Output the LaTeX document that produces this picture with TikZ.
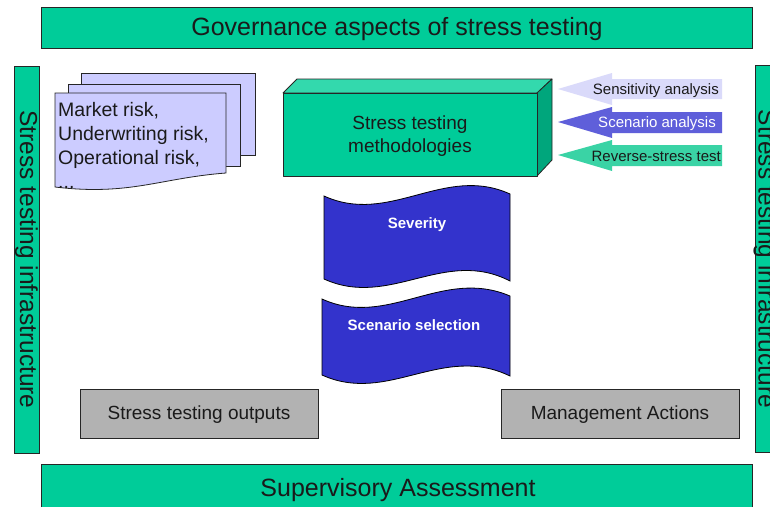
\documentclass[tikz,border=0pt]{standalone}
\usepackage{fontspec}
\setmainfont{Liberation Sans}
\definecolor{stgreen}{HTML}{00CC99}
\definecolor{stgreentop}{HTML}{33D9AD}
\definecolor{stgreenside}{HTML}{00A67C}
\definecolor{stgrey}{HTML}{B2B2B2}
\definecolor{stlav}{HTML}{CCCCFF}
\definecolor{stblue}{HTML}{3333CC}
\definecolor{arrlav}{HTML}{DADAFA}
\definecolor{arrblue}{HTML}{5F5FDA}
\definecolor{arrgreen}{HTML}{3AD3A5}
\definecolor{txtdark}{HTML}{1A1A1A}
\tikzset{
  bar/.style={draw=black!85, line width=1pt, fill=stgreen, inner sep=0pt, text=txtdark},
  greybox/.style={draw=black!85, line width=1pt, fill=stgrey, inner sep=0pt, minimum width=238pt, minimum height=49pt},
  greytext/.style={font=\fontsize{19}{22}\selectfont, text=txtdark},
  sheet/.style={draw=black!85, line width=0.8pt, fill=stlav},
  wave/.style={draw=black, line width=0.8pt, fill=stblue},
  wavetext/.style={font=\fontsize{15}{18}\selectfont\bfseries, text=white},
  arrtext/.style={font=\fontsize{15}{17}\selectfont, inner sep=0pt, anchor=east},
  boxface/.style={draw=black!85, line width=0.8pt, line join=round}
}
\begin{document}
\begin{tikzpicture}[x=1pt,y=-1pt]
\clip (0,0) rectangle (770,506);
\fill[white] (0,0) rectangle (770,506);

% top and bottom bars
\node[bar, minimum width=711pt, minimum height=41pt] (gov) at (396.5,27.5) {};
\node[font=\fontsize{25}{28}\selectfont, text=txtdark] (govtxt) at (397,29) {Governance aspects of stress testing};
\node[bar, minimum width=711pt, minimum height=50pt, anchor=north] (sup) at (396.5,464) {};
\node[font=\fontsize{25}{28}\selectfont, text=txtdark] (suptxt) at (398,490) {Supervisory Assessment};

% side bars
\node[bar, minimum width=387pt, minimum height=25pt, rotate=-90, font=\fontsize{24.5}{28}\selectfont] (infl) at (26.5,259.5) {Stress testing infrastructure};
\node[bar, minimum width=387pt, minimum height=26pt, rotate=-90] (infr) at (768,259) {};
\node[rotate=-90, font=\fontsize{24.5}{28}\selectfont, text=txtdark] (infrtxt) at (765,259) {Stress testing infrastructure};

% paper stack
\path[sheet] (81,73) rectangle (255,155);
\path[sheet] (68,84) rectangle (240,166);
\path[sheet] (55,93) -- (226,93) -- (226,173) .. controls (160,178) and (130,196) .. (55,187) -- cycle;
\begin{scope}
\clip (55,93) -- (226,93) -- (226,173) .. controls (160,178) and (130,196) .. (55,187) -- cycle;
\node[anchor=north west, align=left, inner sep=0pt, font=\fontsize{19.5}{24}\selectfont, text=txtdark] (risks) at (58,102) {Market risk,\\Underwriting risk,\\Operational risk,\\...};
\end{scope}

% 3D box
\path[boxface, fill=stgreentop] (283,93) -- (297,79) -- (552,79) -- (537,93) -- cycle;
\path[boxface, fill=stgreenside] (537,93) -- (552,79) -- (552,160) -- (537,176) -- cycle;
\node[boxface, draw, fill=stgreen, minimum width=254pt, minimum height=83pt, inner sep=0pt, anchor=north west] (meth) at (283,93) {};
\node[align=center, font=\fontsize{19}{23}\selectfont, text=txtdark] (methtxt) at (410,136) {Stress testing\\methodologies};

% arrows
\fill[arrlav] (558,89) -- (612,73) -- (612,79) -- (722,79) -- (722,99) -- (612,99) -- (612,105) -- cycle;
\fill[arrblue] (558,122) -- (612,107) -- (612,112) -- (722,112) -- (722,133) -- (612,133) -- (612,138) -- cycle;
\fill[arrgreen] (558,155) -- (612,140) -- (612,145) -- (722,145) -- (722,166) -- (612,166) -- (612,171) -- cycle;
\node[arrtext, text=txtdark] (sens) at (719,90.5) {Sensitivity analysis};
\node[arrtext, text=white] (scen) at (716,123.5) {Scenario analysis};
\node[arrtext, text=txtdark] (rev) at (721,156.5) {Reverse-stress test};

% waves
\path[wave] (324,196) .. controls (390,226) and (444,164) .. (510,194) -- (510,281) .. controls (444,247) and (390,309) .. (324,279) -- cycle;
\node[wavetext] (sev) at (417,225) {Severity};
\path[wave] (322,299) .. controls (388,329) and (442,267) .. (510,296) -- (510,376) .. controls (442,343) and (388,405) .. (322,375) -- cycle;
\node[wavetext] (ssel) at (414,325.5) {Scenario selection};

% grey boxes
\node[greybox] (out) at (199,413.5) {};
\node[greytext] (outtxt) at (199,415) {Stress testing outputs};
\node[greybox] (mgmt) at (620,413.5) {};
\node[greytext] (mgmttxt) at (620,415) {Management Actions};
\end{tikzpicture}
\end{document}
